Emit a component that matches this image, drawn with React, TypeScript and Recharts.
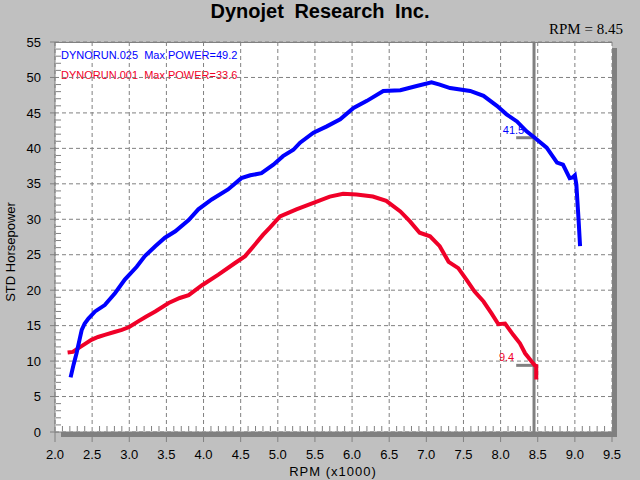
import React from 'react';
import { LineChart, Line, XAxis, YAxis, CartesianGrid, ReferenceLine } from 'recharts';

const blueRpm = [2.21, 2.25, 2.29, 2.33, 2.36, 2.40, 2.45, 2.54, 2.67, 2.81, 2.94, 3.10, 3.21, 3.35, 3.48, 3.62, 3.80, 3.93, 4.11, 4.33, 4.51, 4.63, 4.78, 4.94, 5.07, 5.21, 5.30, 5.48, 5.66, 5.84, 6.02, 6.20, 6.42, 6.65, 6.87, 7.07, 7.18, 7.32, 7.59, 7.77, 7.95, 8.08, 8.22, 8.35, 8.46, 8.62, 8.76, 8.84, 8.93, 8.97, 9.00, 9.02, 9.05, 9.07];
const blueHp = [7.7, 9.5, 11.1, 13.0, 14.4, 15.3, 16.0, 17.0, 17.9, 19.6, 21.5, 23.3, 24.8, 26.2, 27.4, 28.3, 29.9, 31.4, 32.8, 34.2, 35.8, 36.2, 36.5, 37.7, 38.9, 39.8, 40.8, 42.2, 43.1, 44.1, 45.7, 46.7, 48.1, 48.2, 48.8, 49.3, 49.0, 48.5, 48.1, 47.4, 46.0, 44.8, 43.8, 42.4, 41.5, 40.1, 38.0, 37.7, 35.8, 35.9, 36.2, 34.9, 29.9, 26.2];

const redRpm = [2.17, 2.24, 2.31, 2.40, 2.49, 2.58, 2.67, 2.80, 2.90, 3.00, 3.12, 3.23, 3.35, 3.53, 3.68, 3.80, 3.98, 4.20, 4.42, 4.56, 4.69, 4.80, 4.89, 5.03, 5.25, 5.48, 5.70, 5.88, 6.06, 6.28, 6.46, 6.65, 6.78, 6.91, 7.05, 7.18, 7.30, 7.43, 7.54, 7.65, 7.77, 7.88, 7.97, 8.06, 8.17, 8.26, 8.33, 8.42, 8.46, 8.48, 8.48];
const redHp = [11.2, 11.3, 11.8, 12.4, 13.0, 13.4, 13.7, 14.1, 14.4, 14.8, 15.6, 16.3, 17.0, 18.2, 18.9, 19.3, 20.7, 22.2, 23.8, 24.8, 26.4, 27.8, 28.8, 30.4, 31.4, 32.3, 33.2, 33.6, 33.5, 33.2, 32.6, 31.1, 29.7, 28.1, 27.6, 26.2, 24.0, 23.1, 21.5, 19.8, 18.4, 16.7, 15.2, 15.3, 13.7, 12.5, 11.1, 9.9, 9.4, 9.3, 7.4];

const xTicks = [2.0, 2.5, 3.0, 3.5, 4.0, 4.5, 5.0, 5.5, 6.0, 6.5, 7.0, 7.5, 8.0, 8.5, 9.0, 9.5];
const yTicks = [0, 5, 10, 15, 20, 25, 30, 35, 40, 45, 50, 55];

const cursorRpm = 8.45;
const markerFrom = 8.21;
const blueAtCursor = 41.5;
const redAtCursor = 9.4;

const BLUE = '#0000ff';
const RED = '#f00028';
const GRAY = '#808080';

const toRows = (xs: number[], ys: number[]) => xs.map((rpm, i) => ({ rpm, hp: ys[i] }));
const blueData = toRows(blueRpm, blueHp);
const redData = toRows(redRpm, redHp);

const X_TICK_LEN = 10;
const X_TICK_GAP = 8;
const Y_TICK_LEN = 5;
const Y_TICK_GAP = 9;

// major tick label + the 4 minor ticks (0.1 rpm) to its right, drawn inside the plot
const XTick = (props: any) => {
  const { x, y, payload, width } = props;
  const axisY = y - X_TICK_LEN - X_TICK_GAP;
  const step = (width || 557) / 75;
  const minors = [];
  if (payload.value < 9.5) {
    for (let k = 1; k <= 4; k++) {
      const mx = payload.coordinate + k * step;
      minors.push(<line key={k} x1={mx} x2={mx} y1={axisY - 1} y2={axisY - 6} stroke={GRAY} />);
    }
  }
  return (
    <g>
      {minors}
      <text x={x} y={y} dy="0.71em" textAnchor="middle" fill="#000" fontSize={13} fontFamily="Arial">
        {Number(payload.value).toFixed(1)}
      </text>
    </g>
  );
};

// major tick label + the 4 minor ticks (1 hp) above it
const YTick = (props: any) => {
  const { x, y, payload, height } = props;
  const axisX = x + Y_TICK_LEN + Y_TICK_GAP;
  const step = (height || 390) / 55;
  const minors = [];
  if (payload.value < 55) {
    for (let k = 1; k <= 4; k++) {
      const my = payload.coordinate - k * step;
      minors.push(<line key={k} x1={axisX + 1} x2={axisX + 6} y1={my} y2={my} stroke={GRAY} />);
    }
  }
  return (
    <g>
      {minors}
      <text x={x} y={y} dy="0.355em" textAnchor="end" fill="#000" fontSize={13} fontFamily="Arial">
        {payload.value}
      </text>
    </g>
  );
};

const markLabel = (text: string, color: string, dx: number, dy: number) => (props: any) => {
  const vb = props.viewBox || {};
  return (
    <text x={vb.x + dx} y={vb.y + dy} textAnchor="end" fill={color} fontSize={11} fontFamily="Arial">
      {text}
    </text>
  );
};

const App = () => {
  return (
    <div style={{ position: 'fixed', left: 0, top: 0, width: 640, height: 480, background: '#c0c0c0', fontFamily: 'Arial, "Liberation Sans", sans-serif' }}>
      <div style={{ position: 'absolute', left: 0, width: 640, top: 0, textAlign: 'center', fontWeight: 'bold', fontSize: 20, wordSpacing: 5, lineHeight: '22px' }}>
        Dynojet Research Inc.
      </div>
      <div style={{ position: 'absolute', left: 549, top: 20, fontFamily: '"Liberation Serif", "DejaVu Serif", serif', fontSize: 15, lineHeight: '18px' }}>
        RPM = 8.45
      </div>
      {/* plot box and its shadow */}
      <div style={{ position: 'absolute', left: 61, top: 432, width: 556, height: 5, background: GRAY }} />
      <div style={{ position: 'absolute', left: 612, top: 48, width: 5, height: 389, background: GRAY }} />
      <div style={{ position: 'absolute', left: 55, top: 42, width: 557, height: 390, background: '#fff', borderTop: `1px solid ${GRAY}`, boxSizing: 'border-box' }} />
      <div style={{ position: 'absolute', left: 61, top: 48, fontSize: 11, lineHeight: '14px', color: BLUE, whiteSpace: 'pre' }}>
        {'DYNORUN.025  Max POWER=49.2'}
      </div>
      <div style={{ position: 'absolute', left: 61, top: 68, fontSize: 11, lineHeight: '14px', color: RED, whiteSpace: 'pre' }}>
        {'DYNORUN.001  Max POWER=33.6'}
      </div>
      <div style={{ position: 'absolute', left: 0, top: 0 }}>
        <LineChart width={640} height={480} margin={{ top: 42, right: 28, bottom: 18, left: 10 }}>
          <CartesianGrid stroke={GRAY} strokeDasharray="4 3" />
          <XAxis
            dataKey="rpm"
            type="number"
            domain={[2, 9.5]}
            ticks={xTicks}
            interval={0}
            allowDataOverflow
            height={30}
            tickSize={X_TICK_LEN}
            tickMargin={X_TICK_GAP}
            stroke={GRAY}
            tick={XTick}
            label={{
              content: () => (
                <text x={333} y={476} textAnchor="middle" fontSize={13} letterSpacing={1} fontFamily="Arial" fill="#000">
                  RPM (x1000)
                </text>
              ),
            }}
          />
          <YAxis
            type="number"
            domain={[0, 55]}
            ticks={yTicks}
            interval={0}
            width={45}
            tickSize={Y_TICK_LEN}
            tickMargin={Y_TICK_GAP}
            stroke={GRAY}
            tick={YTick}
            label={{
              content: () => (
                <text x={10} y={252} transform="rotate(-90, 10, 252)" textAnchor="middle" dominantBaseline="central" fontSize={13} fontFamily="Arial" fill="#000">
                  STD Horsepower
                </text>
              ),
            }}
          />
          <ReferenceLine x={cursorRpm} stroke={GRAY} strokeWidth={3} />
          <ReferenceLine
            segment={[{ x: markerFrom, y: blueAtCursor }, { x: cursorRpm, y: blueAtCursor }]}
            stroke={GRAY}
            strokeWidth={3}
            label={markLabel(String(blueAtCursor), BLUE, 8, -4)}
          />
          <ReferenceLine
            segment={[{ x: markerFrom, y: redAtCursor }, { x: cursorRpm, y: redAtCursor }]}
            stroke={GRAY}
            strokeWidth={3}
            label={markLabel(String(redAtCursor), RED, -2, -4)}
          />
          <Line data={redData} dataKey="hp" type="linear" stroke={RED} strokeWidth={4} dot={false} isAnimationActive={false} />
          <Line data={blueData} dataKey="hp" type="linear" stroke={BLUE} strokeWidth={4} dot={false} isAnimationActive={false} />
        </LineChart>
      </div>
    </div>
  );
};

export default App;
